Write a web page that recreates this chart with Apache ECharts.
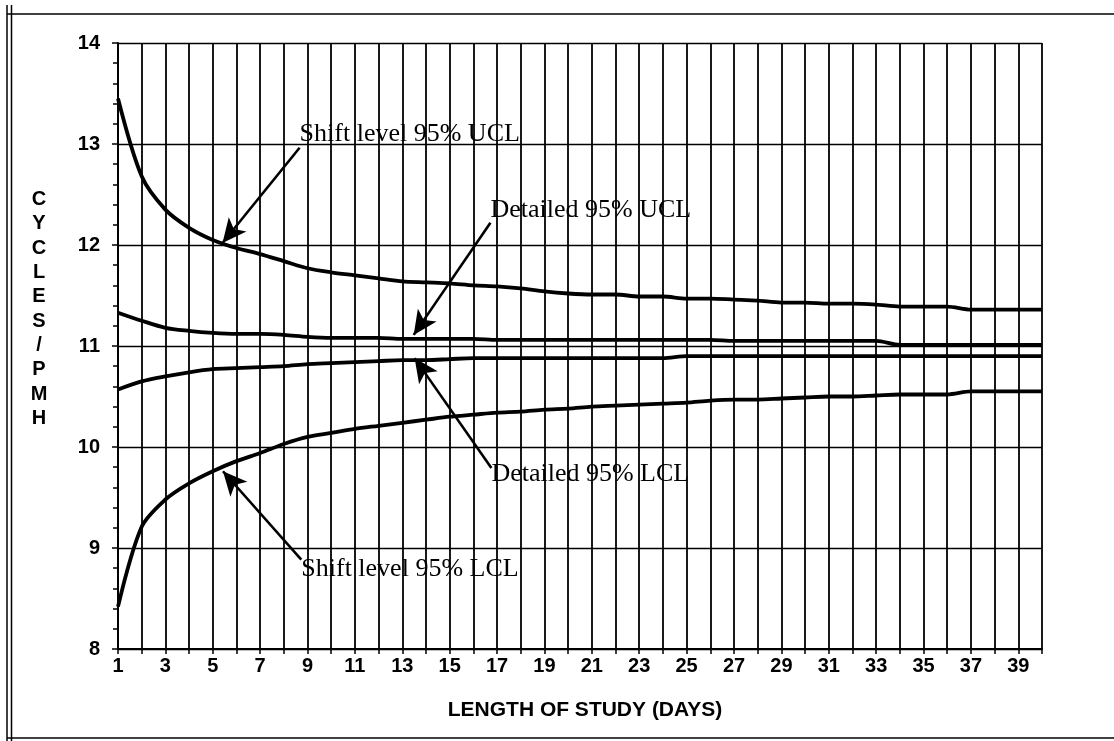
<!DOCTYPE html>
<html>
<head>
<meta charset="utf-8">
<script src="https://cdn.jsdelivr.net/npm/echarts@6/dist/echarts.min.js"></script>
<style>
html,body{margin:0;padding:0;background:#fff;}
#chart{width:1114px;height:741px;}
</style>
</head>
<body>
<div id="chart"></div>
<script>
// ---- data ----
var days = [];
for (var d = 1; d <= 40; d++) days.push(d);

var shiftUCL = [13.45,12.68,12.35,12.17,12.05,11.97,11.91,11.84,11.77,11.73,
                11.70,11.67,11.64,11.63,11.62,11.60,11.59,11.57,11.54,11.52,
                11.51,11.51,11.49,11.49,11.47,11.47,11.46,11.45,11.43,11.43,
                11.42,11.42,11.41,11.39,11.39,11.39,11.36,11.36,11.36,11.36];
var detailedUCL = [11.33,11.25,11.18,11.15,11.13,11.12,11.12,11.11,11.09,11.08,
                   11.08,11.08,11.07,11.07,11.07,11.07,11.06,11.06,11.06,11.06,
                   11.06,11.06,11.06,11.06,11.06,11.06,11.05,11.05,11.05,11.05,
                   11.05,11.05,11.05,11.01,11.01,11.01,11.01,11.01,11.01,11.01];
var detailedLCL = [10.57,10.65,10.70,10.74,10.77,10.78,10.79,10.80,10.82,10.83,
                   10.84,10.85,10.86,10.86,10.87,10.88,10.88,10.88,10.88,10.88,
                   10.88,10.88,10.88,10.88,10.90,10.90,10.90,10.90,10.90,10.90,
                   10.90,10.90,10.90,10.90,10.90,10.90,10.90,10.90,10.90,10.90];
var shiftLCL = [8.42,9.21,9.48,9.64,9.76,9.86,9.94,10.03,10.10,10.14,
                10.18,10.21,10.24,10.27,10.30,10.32,10.34,10.35,10.37,10.38,
                10.40,10.41,10.42,10.43,10.44,10.46,10.47,10.47,10.48,10.49,
                10.50,10.50,10.51,10.52,10.52,10.52,10.55,10.55,10.55,10.55];

var xTitle = 'LENGTH OF STUDY (DAYS)';
var yTitle = 'CYCLES/PMH';

// annotation texts: [label, x, y] in data coordinates (text left / middle)
var annoTexts = [
  ['Shift level 95% UCL', 8.665, 13.10],
  ['Detailed 95% UCL', 16.72, 12.34],
  ['Detailed 95% LCL', 16.76, 9.73],
  ['Shift level 95% LCL', 8.736, 8.79]
];
// arrows: [fromX, fromY, toX, toY] in data coordinates
var arrows = [
  [8.665, 12.963, 5.41, 12.02],
  [16.72, 12.221, 13.48, 11.11],
  [16.76, 9.792, 13.52, 10.88],
  [8.736, 8.884, 5.43, 9.76]
];

function pairs(ys) { return ys.map(function (v, i) { return [days[i], v]; }); }

var chart = echarts.init(document.getElementById('chart'), null, {renderer: 'canvas'});

function lineSeries(name, ys) {
  return {
    name: name, type: 'line', data: pairs(ys), showSymbol: false, smooth: 0.3,
    lineStyle: {color: '#000', width: 3.8}, silent: true, z: 5
  };
}

var series = [
  lineSeries('Shift level 95% UCL', shiftUCL),
  lineSeries('Detailed 95% UCL', detailedUCL),
  lineSeries('Detailed 95% LCL', detailedLCL),
  lineSeries('Shift level 95% LCL', shiftLCL)
];
series[0].markLine = {
  silent: true, animation: false,
  label: {show: false},
  lineStyle: {color: '#000', width: 2.6, type: 'solid'},
  emphasis: {disabled: true},
  data: arrows.map(function (a) {
    return [
      {coord: [a[0], a[1]], symbol: 'none'},
      {coord: [a[2], a[3]], symbol: 'arrow', symbolSize: [17, 24]}
    ];
  })
};

chart.setOption({
  animation: false,
  backgroundColor: '#fff',
  grid: {left: 118, right: 72, top: 43, bottom: 92, show: false},
  xAxis: {
    type: 'value', min: 1, max: 40, interval: 1,
    axisLine: {show: true, lineStyle: {color: '#000', width: 2}},
    axisTick: {show: true, length: 5, lineStyle: {color: '#000', width: 1.5}},
    axisLabel: {
      color: '#000', fontFamily: 'Liberation Sans', fontWeight: 'bold', fontSize: 20, margin: 7,
      formatter: function (v) { return (v % 2 === 1) ? String(v) : ''; }
    },
    splitLine: {show: true, lineStyle: {color: '#000', width: 1.8}}
  },
  yAxis: {
    type: 'value', min: 8, max: 14, interval: 1,
    axisLine: {show: true, lineStyle: {color: '#000', width: 2}},
    axisTick: {show: true, length: 6, lineStyle: {color: '#000', width: 1.5}},
    minorTick: {show: true, splitNumber: 5, length: 5, lineStyle: {color: '#000', width: 1.5}},
    axisLabel: {color: '#000', fontFamily: 'Liberation Sans', fontWeight: 'bold', fontSize: 20, margin: 18},
    splitLine: {show: true, lineStyle: {color: '#000', width: 1.3}}
  },
  series: series
});

// annotation texts positioned from data coordinates
var graphics = [];
annoTexts.forEach(function (t) {
  var p = chart.convertToPixel({gridIndex: 0}, [t[1], t[2]]);
  graphics.push({
    type: 'text', x: p[0], y: p[1], z: 10, silent: true,
    style: {text: t[0], fill: '#000', font: '26px "Liberation Serif"', textAlign: 'left', textVerticalAlign: 'middle'}
  });
});
// axis titles
graphics.push({
  type: 'text', x: 585, y: 710, silent: true,
  style: {text: xTitle, fill: '#000', font: 'bold 21px "Liberation Sans"', textAlign: 'center', textVerticalAlign: 'middle'}
});
graphics.push({
  type: 'text', x: 39, y: 309, silent: true,
  style: {text: yTitle.split('').join('\n'), fill: '#000', font: 'bold 20px "Liberation Sans"',
          textAlign: 'center', textVerticalAlign: 'middle', lineHeight: 24.3}
});
// outer frame
var frame = {stroke: '#000', lineWidth: 1.5};
graphics.push({type: 'line', shape: {x1: 7, y1: 5, x2: 7, y2: 741}, style: frame, silent: true});
graphics.push({type: 'line', shape: {x1: 11.5, y1: 5, x2: 11.5, y2: 741}, style: frame, silent: true});
graphics.push({type: 'line', shape: {x1: 7, y1: 14, x2: 1114, y2: 14}, style: frame, silent: true});
graphics.push({type: 'line', shape: {x1: 7, y1: 738, x2: 1114, y2: 738}, style: frame, silent: true});

chart.setOption({graphic: graphics});
</script>
</body>
</html>
